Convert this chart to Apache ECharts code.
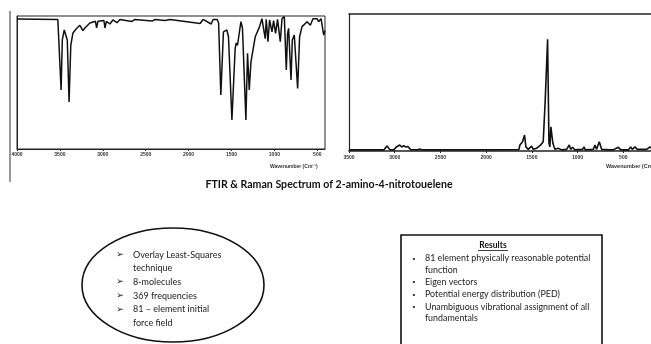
<!DOCTYPE html>
<html>
<head>
<meta charset="utf-8">
<script src="https://cdn.jsdelivr.net/npm/echarts@6.0.0/dist/echarts.min.js"></script>
<style>
  html, body { margin: 0; padding: 0; background: #fff; }
  #chart { width: 651px; height: 344px; }
</style>
</head>
<body>
<div id="chart"></div>
<script>
// FTIR spectrum, wavenumber (cm-1) vs transmittance (%)
var ftirWavenumber = [4000, 3524, 3501, 3486, 3472, 3449, 3431, 3414, 3393, 3373, 3349, 3314, 3267, 3232, 3209, 3150,
    3086, 3072, 3057, 2987, 2975, 2958, 2917, 2882, 2835, 2800, 2660, 2625, 2426, 2391, 2275, 2216, 1866, 1831,
    1737, 1714, 1667, 1650, 1624, 1594, 1554, 1535, 1495, 1457, 1445, 1430, 1390, 1372, 1332, 1313, 1293, 1273,
    1223, 1173, 1145, 1107, 1095, 1075, 1056, 1028, 1009, 986, 963, 931, 911, 884, 861, 846, 834, 806, 791, 768,
    729, 706, 678, 619, 581, 550, 503, 484, 456, 425, 410];
var ftirTransmittance = [97.7, 97.4, 97.5, 44.4, 82, 89.5, 91, 82, 35.3, 78, 87, 90, 93, 89, 91, 94.7,
    96, 91, 96, 96.6, 91, 96, 94, 97, 95, 97.4, 95.9, 97.4, 96.2, 97.4, 96.6, 97.4, 94.4, 97.4,
    94, 97.4, 97.4, 94.7, 40.6, 88, 89.5, 84.4, 21.8, 75.7, 79.7, 78, 95.7, 91, 21.8, 72, 44.4, 65.6,
    84.4, 92, 98, 83, 97.5, 80.7, 97, 88, 96.5, 87, 97.5, 80.7, 98, 99.5, 59.4, 87, 90.7, 51.9, 82, 85.7,
    45.6, 84.4, 92, 95.7, 93, 98, 98, 95.7, 98, 85.7, 89];

// Raman spectrum, wavenumber (cm-1) vs intensity
var ramanWavenumber = [3500, 3402, 3391, 3380, 3120, 3084, 3054, 3010, 2982, 2945, 2923, 2901, 2879, 2857, 2825,
    2748, 2726, 2704, 1642, 1631, 1602, 1580, 1565, 1540, 1503, 1485, 1448, 1404, 1376, 1354, 1328, 1313, 1303,
    1292, 1281, 1270, 1248, 1212, 1175, 1120, 1091, 1076, 1054, 1029, 945, 930, 916, 828, 810, 792, 763, 748,
    737, 646, 627, 610, 555, 529, 445, 419, 402, 372, 347, 244, 208, 197];
var ramanIntensity = [0.8, 0.8, 2.2, 0.8, 0.8, 3.6, 1, 0.8, 2.9, 4.4, 2.9, 4, 2.9, 3.3, 1,
    0.8, 1.5, 0.8, 1, 4.4, 6.8, 11.7, 3, 1.2, 3.6, 1.2, 2, 4.4, 6.8, 37, 81.5, 5.6, 3,
    17.7, 16.5, 5.6, 1.2, 2, 0.8, 1.2, 4.4, 1.2, 2.7, 0.8, 1.2, 3, 0.8, 1.2, 4.4, 1.2, 6.8, 7.3,
    1.2, 0.8, 2, 0.8, 2.7, 0.8, 0.8, 3, 1.2, 3, 1.2, 1.2, 3, 2];

var ftirTicks = [500, 1000, 1500, 2000, 2500, 3000, 3500, 4000];
var ramanTicks = [500, 1000, 1500, 2000, 2500, 3000, 3500];

var titleText = 'FTIR & Raman Spectrum of 2-amino-4-nitrotouelene';
var methodLines = ['Overlay Least-Squares', 'technique', '8-molecules', '369 frequencies', '81 \u2013 element initial', 'force field'];
var methodArrows = [true, false, true, true, true, false];
var resultLines = ['81 element physically reasonable potential', 'function', 'Eigen vectors',
    'Potential energy distribution (PED)', 'Unambiguous vibrational assignment of all', 'fundamentals'];
var resultBullets = [true, false, true, true, true, false];

function zip(xs, ys) {
    var out = [];
    for (var i = 0; i < xs.length; i++) {
        out.push([xs[i], ys[i]]);
    }
    return out;
}

var bodyFont = 'Lato, "Open Sans", sans-serif';
var graphics = [];

// thin vertical rule at far left
graphics.push({
    type: 'line', shape: { x1: 10, y1: 11, x2: 10, y2: 182 },
    style: { stroke: '#333', lineWidth: 1 }
});

// axis captions
graphics.push({
    type: 'text', x: 270, y: 167,
    style: { text: 'Wavenumber (Cm\u207B\u00B9)', fill: '#333', font: 'bold 5px sans-serif', verticalAlign: 'middle' }
});
graphics.push({
    type: 'text', x: 606, y: 166,
    style: { text: 'Wavenumber (Cm\u207B\u00B9)', fill: '#333', font: 'bold 5.5px sans-serif', verticalAlign: 'middle' }
});

// title
graphics.push({
    type: 'text', x: 329, y: 185,
    style: { text: titleText, font: 'bold 10.6px Lato, "Open Sans", sans-serif', fill: '#111', align: 'center', verticalAlign: 'middle' }
});

// ellipse with the method notes
graphics.push({
    type: 'ellipse', shape: { cx: 173, cy: 285, rx: 91, ry: 57 },
    style: { fill: 'none', stroke: '#111', lineWidth: 1.6 }
});
var methodY = [255, 268.3, 281.7, 295.7, 309.3, 322.7];
methodLines.forEach(function (t, i) {
    if (methodArrows[i]) {
        graphics.push({
            type: 'text', x: 120, y: methodY[i],
            style: { text: '\u27A2', font: '9px "DejaVu Sans", sans-serif', fill: '#222', align: 'center', verticalAlign: 'middle' }
        });
    }
    graphics.push({
        type: 'text', x: 133, y: methodY[i],
        style: { text: t, font: '9px ' + bodyFont, fill: '#222', verticalAlign: 'middle' }
    });
});

// results box
graphics.push({
    type: 'rect', shape: { x: 401, y: 235, width: 201, height: 120 },
    style: { fill: 'none', stroke: '#111', lineWidth: 1.6 }
});
graphics.push({
    type: 'text', x: 493, y: 245,
    style: { text: 'Results', font: 'bold 8.5px ' + bodyFont, fill: '#111', align: 'center', verticalAlign: 'middle' }
});
graphics.push({
    type: 'line', shape: { x1: 478, y1: 250.5, x2: 508, y2: 250.5 },
    style: { stroke: '#111', lineWidth: 0.8 }
});
var resultY = [258.3, 270, 282, 294.5, 306.7, 318.5];
resultLines.forEach(function (t, i) {
    if (resultBullets[i]) {
        graphics.push({
            type: 'text', x: 414, y: resultY[i],
            style: { text: '\u2022', font: '8px sans-serif', fill: '#222', align: 'center', verticalAlign: 'middle' }
        });
    }
    graphics.push({
        type: 'text', x: 425, y: resultY[i],
        style: { text: t, font: '8.9px ' + bodyFont, fill: '#222', verticalAlign: 'middle' }
    });
});

function plainLabel(v) {
    return String(v);
}

option = {
    backgroundColor: '#fff',
    animation: false,
    grid: [
        { left: 17, right: 326, top: 16, bottom: 195, show: true, borderColor: '#222', borderWidth: 1 },
        // the Raman frame runs off the right edge, so only left/top/bottom are drawn (by axis lines)
        { left: 349, right: 0, top: 14, bottom: 193, show: false }
    ],
    xAxis: [
        {
            type: 'value', gridIndex: 0, min: 410, max: 4000, inverse: true,
            axisLine: { show: true, lineStyle: { color: '#222', width: 1 } },
            axisTick: { show: true, inside: false, length: 2, customValues: ftirTicks, lineStyle: { color: '#222' } },
            axisLabel: { show: true, customValues: ftirTicks, formatter: plainLabel, fontSize: 5, fontWeight: 'bold', color: '#333', margin: 3 },
            splitLine: { show: false }
        },
        {
            type: 'value', gridIndex: 1, min: 197, max: 3500, inverse: true,
            axisLine: { show: true, onZero: false, lineStyle: { color: '#222', width: 1.5 } },
            axisTick: { show: true, inside: false, length: 2, customValues: ramanTicks, lineStyle: { color: '#222' } },
            axisLabel: { show: true, customValues: ramanTicks, formatter: plainLabel, fontSize: 5, fontWeight: 'bold', color: '#333', margin: 4 },
            splitLine: { show: false }
        },
        {
            type: 'value', gridIndex: 1, min: 197, max: 3500, inverse: true, position: 'top',
            axisLine: { show: true, onZero: false, lineStyle: { color: '#222', width: 1.5 } },
            axisTick: { show: false }, axisLabel: { show: false }, splitLine: { show: false }
        }
    ],
    yAxis: [
        {
            type: 'value', gridIndex: 0, min: 0, max: 100,
            axisLine: { show: true, lineStyle: { color: '#222' } },
            axisTick: { show: false }, axisLabel: { show: false }, splitLine: { show: false }
        },
        {
            type: 'value', gridIndex: 1, min: 0, max: 100,
            axisLine: { show: true, onZero: false, lineStyle: { color: '#222', width: 1.2 } },
            axisTick: { show: false }, axisLabel: { show: false }, splitLine: { show: false }
        }
    ],
    series: [
        {
            name: 'FTIR', type: 'line', xAxisIndex: 0, yAxisIndex: 0,
            data: zip(ftirWavenumber, ftirTransmittance),
            showSymbol: false, lineStyle: { color: '#111', width: 1.5 }
        },
        {
            name: 'Raman', type: 'line', xAxisIndex: 1, yAxisIndex: 1,
            data: zip(ramanWavenumber, ramanIntensity),
            showSymbol: false, lineStyle: { color: '#111', width: 1.6 }
        }
    ],
    graphic: graphics
};

var chart = echarts.init(document.getElementById('chart'), null, { renderer: 'canvas' });
chart.setOption(option);
</script>
</body>
</html>
